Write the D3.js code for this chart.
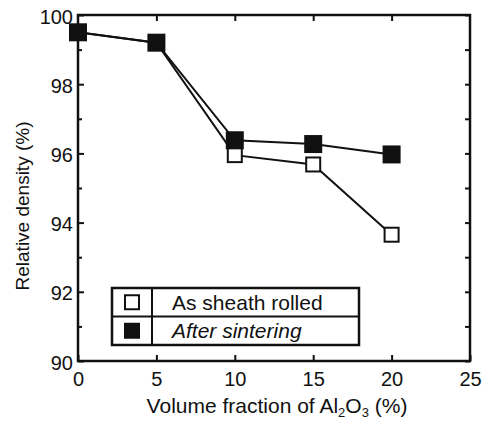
<!DOCTYPE html>
<html>
<head>
<meta charset="utf-8">
<script src="https://cdn.jsdelivr.net/npm/d3@7"></script>
<style>
	body { margin: 0; background: #fff; }
	text { font-family: 'Liberation Sans', Arial, sans-serif; fill: #111; }
</style>
</head>
<body>
<svg id="chart" width="487" height="422"></svg>
<script>
var fractions = [0, 5, 10, 15, 20];
var asRolled = [99.5, 99.2, 95.95, 95.68, 93.65];
var afterSintering = [99.5, 99.2, 96.38, 96.27, 95.97];
var xTicks = [0, 5, 10, 15, 20, 25];
var yTicks = [90, 92, 94, 96, 98, 100];
var yMinor = [91, 93, 95, 97, 99];
var legendLabels = ['As sheath rolled', 'After sintering'];

var svg = d3.select('#chart'),
	margin = { top: 15, right: 17, bottom: 61, left: 78 },
	width = 487 - margin.left - margin.right,
	height = 422 - margin.top - margin.bottom,
	g = svg.append('g').attr('transform', 'translate(' + margin.left + ',' + margin.top + ')');

var scaleX = d3.scaleLinear().domain([0, 25]).range([0, width]);
var scaleY = d3.scaleLinear().domain([90, 100]).range([height, 0]);

// frame
g.append('rect').attr('width', width).attr('height', height)
	.attr('fill', 'none').attr('stroke', '#111').attr('stroke-width', 2.5);

// inward ticks on all sides
var tickLen = 6;
var xAxis = d3.axisBottom(scaleX).tickValues(xTicks).tickSize(-tickLen).tickPadding(10);
var yAxis = d3.axisLeft(scaleY).tickValues(yTicks).tickSize(-tickLen).tickPadding(5);

var gx = g.append('g').attr('transform', 'translate(0,' + height + ')').call(xAxis);
var gy = g.append('g').call(yAxis);
gx.selectAll('text').attr('font-size', 20).attr('dy', '0.75em');
gy.selectAll('text').attr('font-size', 20).attr('dy', '0.4em');

g.append('g').call(d3.axisTop(scaleX).tickValues(xTicks.slice(1, 5)).tickSize(-tickLen).tickFormat(''));
g.append('g').call(d3.axisLeft(scaleY).tickValues(yMinor).tickSize(-4).tickFormat(''));
g.append('g').attr('transform', 'translate(' + width + ',0)')
	.call(d3.axisRight(scaleY).tickValues(yTicks.concat(yMinor)).tickSize(-5).tickFormat(''));

g.selectAll('.domain').remove();
g.selectAll('.tick line').attr('stroke', '#111').attr('stroke-width', 2);

// axis titles
svg.append('text').attr('x', 277).attr('y', 413)
	.attr('text-anchor', 'middle').attr('font-size', 21)
	.html('Volume fraction of Al<tspan dy="4" font-size="13">2</tspan><tspan dy="-4">O</tspan><tspan dy="4" font-size="13">3</tspan><tspan dy="-4"> (%)</tspan>');

svg.append('text').attr('transform', 'translate(29,206) rotate(-90)')
	.attr('text-anchor', 'middle').attr('font-size', 19)
	.text('Relative density (%)');

// series
var line = d3.line()
	.x(function(d) { return scaleX(d[0]); })
	.y(function(d) { return scaleY(d[1]); });

var series = [
	{ values: d3.zip(fractions, asRolled), fill: '#fff', size: 14 },
	{ values: d3.zip(fractions, afterSintering), fill: '#111', size: 16 }
];

series.forEach(function(s) {
	g.append('path').datum(s.values).attr('d', line)
		.attr('fill', 'none').attr('stroke', '#111').attr('stroke-width', 2);
});
series.forEach(function(s) {
	g.selectAll(null).data(s.values).enter().append('rect')
		.attr('x', function(d) { return scaleX(d[0]) - s.size / 2; })
		.attr('y', function(d) { return scaleY(d[1]) - s.size / 2; })
		.attr('width', s.size).attr('height', s.size)
		.attr('fill', s.fill).attr('stroke', '#111').attr('stroke-width', 2);
});

// legend table
var lg = svg.append('g').attr('transform', 'translate(112,288)');
var lw = 247, lh = 57, col = 40;
lg.append('rect').attr('width', lw).attr('height', lh)
	.attr('fill', '#fff').attr('stroke', '#111').attr('stroke-width', 2.5);
lg.append('line').attr('x1', col).attr('x2', col).attr('y1', 0).attr('y2', lh)
	.attr('stroke', '#111').attr('stroke-width', 2);
lg.append('line').attr('x1', 0).attr('x2', lw).attr('y1', lh / 2).attr('y2', lh / 2)
	.attr('stroke', '#111').attr('stroke-width', 2);
legendLabels.forEach(function(label, i) {
	var cy = lh / 4 + i * lh / 2;
	lg.append('rect').attr('x', col / 2 - 7).attr('y', cy - 7).attr('width', 14).attr('height', 14)
		.attr('fill', series[i].fill).attr('stroke', '#111').attr('stroke-width', 2);
	lg.append('text').attr('x', col + 20).attr('y', cy + 7.5).attr('font-size', 21)
		.attr('font-style', i === 1 ? 'italic' : 'normal')
		.text(label);
});
</script>
</body>
</html>
